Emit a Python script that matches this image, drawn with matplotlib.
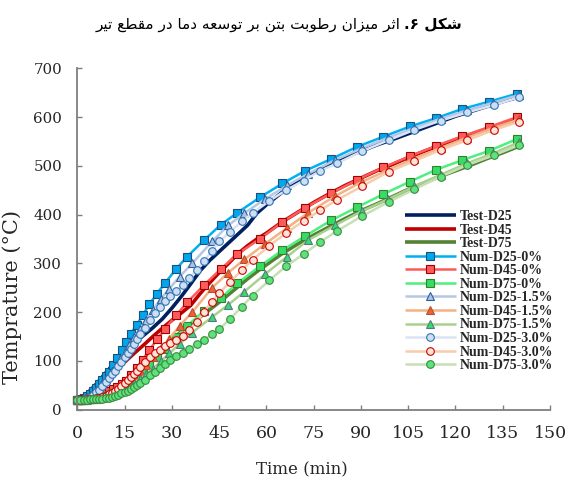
import matplotlib
matplotlib.use("Agg")
import matplotlib.pyplot as plt
from matplotlib import font_manager, ft2font
import matplotlib.patheffects as pe

# ---------------- data ----------------
t_test = [0, 3, 6, 9, 12, 15, 18, 21, 24, 27, 30, 33, 36, 39, 42, 45, 48, 51, 54, 57, 60,
          65, 70, 75, 80, 85, 90, 95, 100, 105, 110, 115, 120, 125, 130, 135, 140]
test_d25 = [20, 32, 52, 75, 97, 118, 136, 152, 168, 186, 208, 232, 258, 285, 306, 324, 342, 360, 378, 403, 420,
            446, 467, 486, 503, 518, 530, 543, 554, 566, 578, 590, 602, 612, 622, 632, 641]
test_d45 = [20, 27, 40, 58, 78, 97, 115, 132, 150, 167, 183, 198, 214, 238, 260, 281, 300, 320, 336, 350, 362,
            385, 405, 425, 443, 460, 475, 490, 503, 517, 530, 542, 554, 565, 576, 586, 595]
test_d75 = [20, 22, 27, 35, 46, 60, 75, 92, 110, 127, 143, 160, 175, 190, 205, 220, 236, 252, 268, 283, 297,
            320, 340, 358, 375, 392, 408, 422, 437, 452, 465, 478, 490, 502, 515, 527, 540]

t_sq = [0, 1, 2, 3, 4, 5, 6, 7, 8, 9, 10, 11.4, 12.6, 14.1, 15.5, 17, 18.9, 20.7, 22.9, 25.3, 27.9,
        31.3, 34.9, 40.3, 45.5, 50.8, 58.1, 65.1, 72.3, 80.5, 88.7, 97.1, 105.6, 113.8, 122.2, 130.7, 139.4]
num_d25_0 = [20, 21, 23, 27, 32, 38, 45, 52, 60, 68, 77, 91, 105, 122, 139, 156, 174, 193, 216, 238, 260,
             288, 314, 348, 379, 404, 436, 464, 490, 514, 539, 560, 581, 598, 617, 632, 648]
num_d45_0 = [20, 20, 21, 22, 23, 25, 27, 30, 33, 36, 39, 43, 47, 52, 59, 70, 86, 102, 122, 144, 166,
             193, 220, 256, 288, 319, 351, 385, 414, 444, 471, 497, 520, 541, 561, 580, 600]
num_d75_0 = [20, 20, 20, 21, 21, 22, 23, 24, 26, 28, 30, 34, 38, 44, 50, 57, 67, 78, 92, 108, 125,
             148, 172, 203, 229, 259, 295, 327, 356, 388, 415, 442, 468, 492, 512, 531, 555]

t_tri = [0, 1, 2, 3, 4, 5, 6, 7, 8, 9, 10, 11, 12.3, 13.6, 15, 16.4, 18, 19.8, 21.8, 24, 26.5,
         29.2, 32.5, 36.5, 42.8, 47.9, 53, 59.6, 66.6, 73.3, 81.8, 90.2, 98.7, 106.9, 115.3, 123.6, 132, 140.3]
num_d25_15 = [20, 20, 22, 25, 29, 34, 40, 47, 54, 62, 70, 79, 91, 104, 118, 132, 148, 165, 184, 205, 227,
              248, 273, 300, 345, 378, 403, 432, 460, 484, 512, 536, 558, 578, 597, 614, 630, 646]
num_d45_15 = [20, 20, 20, 21, 22, 23, 24, 25, 27, 28, 30, 33, 38, 44, 51, 59, 68, 79, 92, 108, 126,
              145, 172, 200, 250, 281, 308, 340, 373, 404, 438, 467, 492, 515, 537, 558, 578, 596]
num_d75_15 = [20, 20, 20, 20, 21, 21, 22, 23, 24, 26, 28, 30, 33, 37, 42, 47, 54, 62, 72, 84, 99,
              115, 135, 158, 190, 215, 242, 278, 314, 348, 378, 407, 432, 458, 482, 505, 526, 549]

t_ci = [0, 1, 2, 3, 4, 5, 6, 7, 8, 9, 10, 11, 12, 13, 14, 15, 16, 17, 18, 19, 20,
        21.5, 23.1, 24.7, 26.2, 27.7, 29.4, 31.3, 33.4, 35.5, 37.9, 40.3, 42.6, 45.1, 48.5, 52.2, 55.6,
        60.9, 66.2, 71.8, 77.1, 82.3, 90.3, 98.8, 106.9, 115.3, 123.8, 132.2, 140.3]
num_d25_30 = [20, 20, 21, 23, 26, 30, 35, 41, 48, 56, 64, 72, 80, 89, 98, 107, 116, 125, 135, 145, 155,
              168, 184, 198, 211, 222, 233, 243, 255, 270, 287, 305, 325, 345, 365, 386, 403,
              428, 450, 470, 490, 505, 530, 553, 574, 593, 610, 625, 641]
num_d45_30 = [20, 20, 20, 21, 21, 22, 23, 24, 26, 28, 31, 34, 38, 43, 48, 54, 60, 66, 73, 80, 87,
              97, 108, 115, 122, 130, 136, 143, 151, 163, 180, 201, 221, 239, 262, 286, 307,
              336, 362, 387, 409, 430, 458, 488, 510, 533, 553, 574, 591]
num_d75_30 = [20, 20, 20, 20, 21, 21, 21, 22, 22, 23, 24, 26, 28, 30, 33, 36, 39, 42, 46, 50, 54,
              61, 70, 78, 86, 94, 101, 109, 117, 125, 134, 143, 154, 165, 186, 211, 234,
              265, 294, 319, 344, 366, 397, 426, 452, 478, 502, 522, 543]

x_ticks = [0, 15, 30, 45, 60, 75, 90, 105, 120, 135, 150]
y_ticks = [0, 100, 200, 300, 400, 500, 600, 700]

title_bold = "شکل ۶."
title_rest = "اثر میزان رطوبت بتن بر توسعه دما در مقطع تیر"

# ------------- simple Arabic shaping (presentation forms, visual order) -------------
FORMS = {
    'ا': ('\uFE8D', '\uFE8E', None, None),
    'ب': ('\uFE8F', '\uFE90', '\uFE91', '\uFE92'),
    'ت': ('\uFE95', '\uFE96', '\uFE97', '\uFE98'),
    'ث': ('\uFE99', '\uFE9A', '\uFE9B', '\uFE9C'),
    'د': ('\uFEA9', '\uFEAA', None, None),
    'ر': ('\uFEAD', '\uFEAE', None, None),
    'ز': ('\uFEAF', '\uFEB0', None, None),
    'س': ('\uFEB1', '\uFEB2', '\uFEB3', '\uFEB4'),
    'ش': ('\uFEB5', '\uFEB6', '\uFEB7', '\uFEB8'),
    'ط': ('\uFEC1', '\uFEC2', '\uFEC3', '\uFEC4'),
    'ع': ('\uFEC9', '\uFECA', '\uFECB', '\uFECC'),
    'ق': ('\uFED5', '\uFED6', '\uFED7', '\uFED8'),
    'ک': ('\uFB8E', '\uFB8F', '\uFB90', '\uFB91'),
    'ل': ('\uFEDD', '\uFEDE', '\uFEDF', '\uFEE0'),
    'م': ('\uFEE1', '\uFEE2', '\uFEE3', '\uFEE4'),
    'ن': ('\uFEE5', '\uFEE6', '\uFEE7', '\uFEE8'),
    'ه': ('\uFEE9', '\uFEEA', '\uFEEB', '\uFEEC'),
    'و': ('\uFEED', '\uFEEE', None, None),
    'ی': ('\uFBFC', '\uFBFD', '\uFBFE', '\uFBFF'),
}


def _has(path, cp):
    try:
        return ft2font.FT2Font(path).get_char_index(cp) != 0
    except Exception:
        return False


_reg = font_manager.findfont(font_manager.FontProperties(family='DejaVu Sans'))
_bold = font_manager.findfont(font_manager.FontProperties(family='DejaVu Sans', weight='bold'))
if not _has(_reg, 0xFB91):
    FORMS['ک'] = ('\uFED9', '\uFEDA', '\uFEDB', '\uFEDC')
if not _has(_reg, 0xFBFE):
    FORMS['ی'] = ('\uFEEF', '\uFEF0', '\uFEF3', '\uFEF4')
bold_ok = _has(_bold, 0xFEB7) and _has(_bold, 0xFEDE) and _has(_bold, ord(FORMS['ک'][3]))


def shape(s):
    out = []
    n = len(s)
    for i, c in enumerate(s):
        if c not in FORMS:
            out.append(c)
            continue
        iso, fin, ini, med = FORMS[c]
        prev = s[i - 1] if i > 0 else None
        nxt = s[i + 1] if i < n - 1 else None
        jp = prev in FORMS and FORMS[prev][2] is not None
        jn = nxt in FORMS and ini is not None
        if jp and jn:
            g = med
        elif jp:
            g = fin
        elif jn:
            g = ini
        else:
            g = iso
        out.append(g)
    return ''.join(reversed(out))


# ---------------- figure ----------------
fig = plt.figure(figsize=(5.75, 4.82), dpi=100)
ax = fig.add_axes([0.1344, 0.1504, 0.8222, 0.7075])

lw_t = 2.6
lw_n = 1.8
ms = 5.2
mew = 0.8

series = [
    (t_test, test_d25, 'Test-D25', dict(color='#002060', lw=lw_t)),
    (t_test, test_d45, 'Test-D45', dict(color='#C00000', lw=lw_t)),
    (t_test, test_d75, 'Test-D75', dict(color='#548235', lw=lw_t)),
    (t_sq, num_d25_0, 'Num-D25-0%', dict(color='#00B0F0', lw=lw_n, marker='s', ms=ms,
                                         mfc='#00A6EE', mec='#1F4E79', mew=mew)),
    (t_sq, num_d45_0, 'Num-D45-0%', dict(color='#FF5A5A', lw=lw_n, marker='s', ms=ms,
                                         mfc='#FF5B5B', mec='#A00000', mew=mew)),
    (t_sq, num_d75_0, 'Num-D75-0%', dict(color='#4DF07E', lw=lw_n, marker='s', ms=ms,
                                         mfc='#33DD66', mec='#3A7D2A', mew=mew)),
    (t_tri, num_d25_15, 'Num-D25-1.5%', dict(color='#B4C7E7', lw=lw_n, marker='^', ms=ms + 0.6,
                                             mfc='#A9C4E4', mec='#2F5F9A', mew=mew)),
    (t_tri, num_d45_15, 'Num-D45-1.5%', dict(color='#F4B183', lw=lw_n, marker='^', ms=ms + 0.6,
                                             mfc='#EE6236', mec='#B5502A', mew=mew)),
    (t_tri, num_d75_15, 'Num-D75-1.5%', dict(color='#A9D18E', lw=lw_n, marker='^', ms=ms + 0.6,
                                             mfc='#2EE06A', mec='#5F7386', mew=mew)),
    (t_ci, num_d25_30, 'Num-D25-3.0%', dict(color='#DAE3F3', lw=lw_n, marker='o', ms=ms + 0.3,
                                            mfc='#D0DEF2', mec='#2E75B6', mew=mew)),
    (t_ci, num_d45_30, 'Num-D45-3.0%', dict(color='#F8CBAD', lw=lw_n, marker='o', ms=ms + 0.3,
                                            mfc='#FCE4D6', mec='#D00000', mew=mew)),
    (t_ci, num_d75_30, 'Num-D75-3.0%', dict(color='#C5E0B4', lw=lw_n, marker='o', ms=ms + 0.3,
                                            mfc='#5DE27E', mec='#3A8A3A', mew=mew)),
]

for x, y, lab, kw in series:
    ax.plot(x, y, label=lab, clip_on=False, solid_capstyle='butt', **kw)

ax.set_xlim(0, 150)
ax.set_ylim(0, 700)
ax.set_xticks(x_ticks)
ax.set_yticks(y_ticks)
for s in ['top', 'right']:
    ax.spines[s].set_visible(False)
for s in ['left', 'bottom']:
    ax.spines[s].set_color('#7F7F7F')
    ax.spines[s].set_linewidth(1.3)
ax.tick_params(axis='both', direction='in', length=3.5, width=1.0, color='#7F7F7F')
ax.tick_params(axis='x', pad=11, labelsize=12.5)
ax.tick_params(axis='y', pad=11, labelsize=10.8)
for lbl in ax.get_xticklabels() + ax.get_yticklabels():
    lbl.set_family('DejaVu Serif')
    lbl.set_color('#262626')

fig.text(302 / 575, 1 - 470 / 482, 'Time (min)', family='DejaVu Serif', size=12,
         ha='center', va='center', color='#262626')
fig.text(2 / 575, 1 - 297 / 482, 'Temprature (°C)', family='DejaVu Serif', size=15,
         rotation=90, ha='left', va='center', color='#262626')

leg = ax.legend(loc='upper left', bbox_to_anchor=(0.693, 0.585), frameon=False,
                borderpad=0, borderaxespad=0, handlelength=3.65, handletextpad=0.3,
                labelspacing=0.04, prop=dict(family='Liberation Serif', weight='bold', size=10))
for txt in leg.get_texts():
    txt.set_color('#262626')

# title (right-to-left, shaped manually): bold part at right, rest to its left
ty = 1 - 25 / 482
if bold_ok:
    tb = fig.text(462 / 575, ty, shape(title_bold), family='DejaVu Sans', weight='bold',
                  size=11, ha='right', va='center', color='black')
else:
    tb = fig.text(462 / 575, ty, shape(title_bold), family='DejaVu Sans', size=11,
                  ha='right', va='center', color='black',
                  path_effects=[pe.withStroke(linewidth=0.9, foreground='black')])
fig.canvas.draw()
bb = tb.get_window_extent(fig.canvas.get_renderer())
fig.text((bb.x0 - 4) / fig.bbox.width, ty, shape(title_rest), family='DejaVu Sans', size=11,
         ha='right', va='center', color='black')

fig.savefig('out.png', dpi=100)
